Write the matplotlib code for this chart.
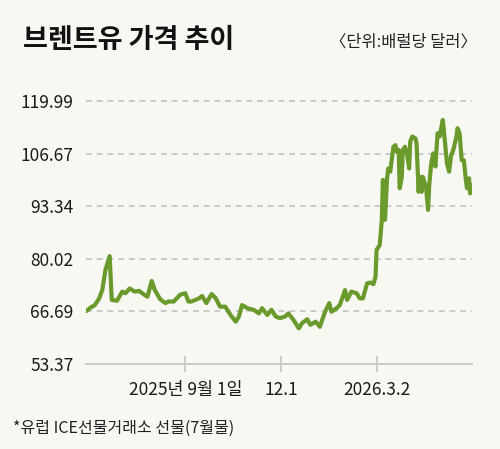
import numpy as np
import pandas as pd
import matplotlib
matplotlib.use("Agg")
import matplotlib.pyplot as plt

plt.rcParams["font.family"] = ["Noto Sans CJK KR", "DejaVu Sans"]

# Brent crude price: days relative to 2025-09-01, USD per barrel
days = [-94, -90, -86, -82, -79, -76, -72, -70, -65, -60, -57, -53, -48, -44, -40, -36,
        -32, -29, -24, -19, -16, -11, -5, 0, 3, 6, 13, 16, 20, 25, 29, 33, 38, 43, 48,
        51, 54, 59, 65, 70, 73, 78, 82, 86, 90, 95, 98, 103, 108, 111, 116, 119, 124,
        128, 133, 137, 139, 144, 147, 152, 154, 158, 163, 166, 169, 173, 176, 179, 181,
        182, 185, 187, 188, 190, 192, 193, 195, 196, 198, 200, 201, 203, 204, 206, 207,
        209, 211, 213, 214, 216, 219, 220, 222, 223, 225, 226, 229, 231, 232, 234, 236,
        238, 240, 242, 245, 246, 249, 251, 253, 255, 258, 259, 261, 263, 265, 267, 268,
        270, 271, 273]
prices = [66.8, 67.7, 68.3, 70.0, 72.1, 77.2, 80.7, 69.6, 69.4, 71.7, 71.3, 72.5, 71.7,
          71.9, 71.1, 70.4, 74.4, 72.1, 69.8, 68.8, 69.2, 69.2, 70.9, 71.3, 69.2, 69.2,
          70.0, 70.6, 68.8, 71.1, 70.0, 67.9, 67.9, 65.8, 64.1, 65.4, 68.3, 67.5, 67.1,
          66.2, 67.5, 65.8, 67.1, 65.4, 65.0, 65.4, 66.2, 64.5, 62.4, 63.7, 64.7, 63.3,
          64.1, 62.8, 66.6, 68.8, 66.6, 67.5, 68.3, 72.1, 69.6, 71.7, 71.3, 70.0, 70.0,
          73.8, 74.0, 73.6, 75.5, 82.3, 83.5, 89.9, 100.0, 89.9, 100.4, 102.9, 102.1,
          104.2, 108.4, 108.8, 107.2, 107.6, 97.9, 100.8, 107.6, 108.4, 106.7, 102.9,
          109.7, 111.0, 110.5, 109.3, 97.0, 100.8, 97.0, 100.8, 98.3, 92.4, 98.3, 104.2,
          106.7, 103.4, 111.8, 111.0, 115.2, 112.6, 104.2, 102.1, 106.3, 107.6, 111.0,
          113.1, 111.8, 105.0, 105.0, 100.0, 97.9, 100.4, 96.6, 98.7]

y_ticks = [53.37, 66.69, 80.02, 93.34, 106.67, 119.99]
x_tick_dates = ["2025-09-01", "2025-12-01", "2026-03-02"]
x_tick_labels = ["2025년 9월 1일", "12.1", "2026.3.2"]

base = pd.Timestamp("2025-09-01")
dates = base + pd.to_timedelta(days, unit="D")

BG = "#f8f8f3"
GREEN = "#6a9a2c"
GRID = "#cacaca"

fig = plt.figure(figsize=(5, 4.49), dpi=100, facecolor=BG)
ax = fig.add_axes([0.172, 0.1893, 0.772, 0.5857], facecolor=BG)

ax.plot(dates, prices, color=GREEN, linewidth=3, solid_joinstyle="round",
        solid_capstyle="round", zorder=3)

ax.set_ylim(y_ticks[0], y_ticks[-1])
ax.set_xlim(base + pd.Timedelta(days=-94.5), base + pd.Timedelta(days=272.8))

for v in y_ticks[1:]:
    ax.axhline(v, color=GRID, linewidth=1.4, linestyle=(0, (3, 2.5)), zorder=1,
               clip_on=False)
ax.axhline(y_ticks[0], color=GRID, linewidth=1.4, zorder=1, clip_on=False)

for s in ax.spines.values():
    s.set_visible(False)

ax.set_yticks(y_ticks)
ax.set_yticklabels([f"{v:.2f}" for v in y_ticks])
ax.tick_params(axis="y", length=0, pad=9, labelsize=12.5, labelcolor="#1a1a1a")

ax.set_xticks(pd.to_datetime(x_tick_dates))
ax.set_xticklabels(x_tick_labels)
ax.tick_params(axis="x", direction="inout", length=12, width=1.3, color=GRID,
               pad=6, labelsize=12.5, labelcolor="#1a1a1a")

fig.text(0.046, 0.911, "브렌트유 가격 추이", fontsize=19.5, fontweight="black",
         va="center", ha="left", color="#111111")
fig.text(0.954, 0.906, "〈단위:배럴당 달러〉", fontsize=11.8,
         va="center", ha="right", color="#222222")
fig.text(0.026, 0.045, "*유럽 ICE선물거래소 선물(7월물)", fontsize=11.5,
         va="center", ha="left", color="#222222")

fig.savefig("out.png", dpi=100, facecolor=BG)
